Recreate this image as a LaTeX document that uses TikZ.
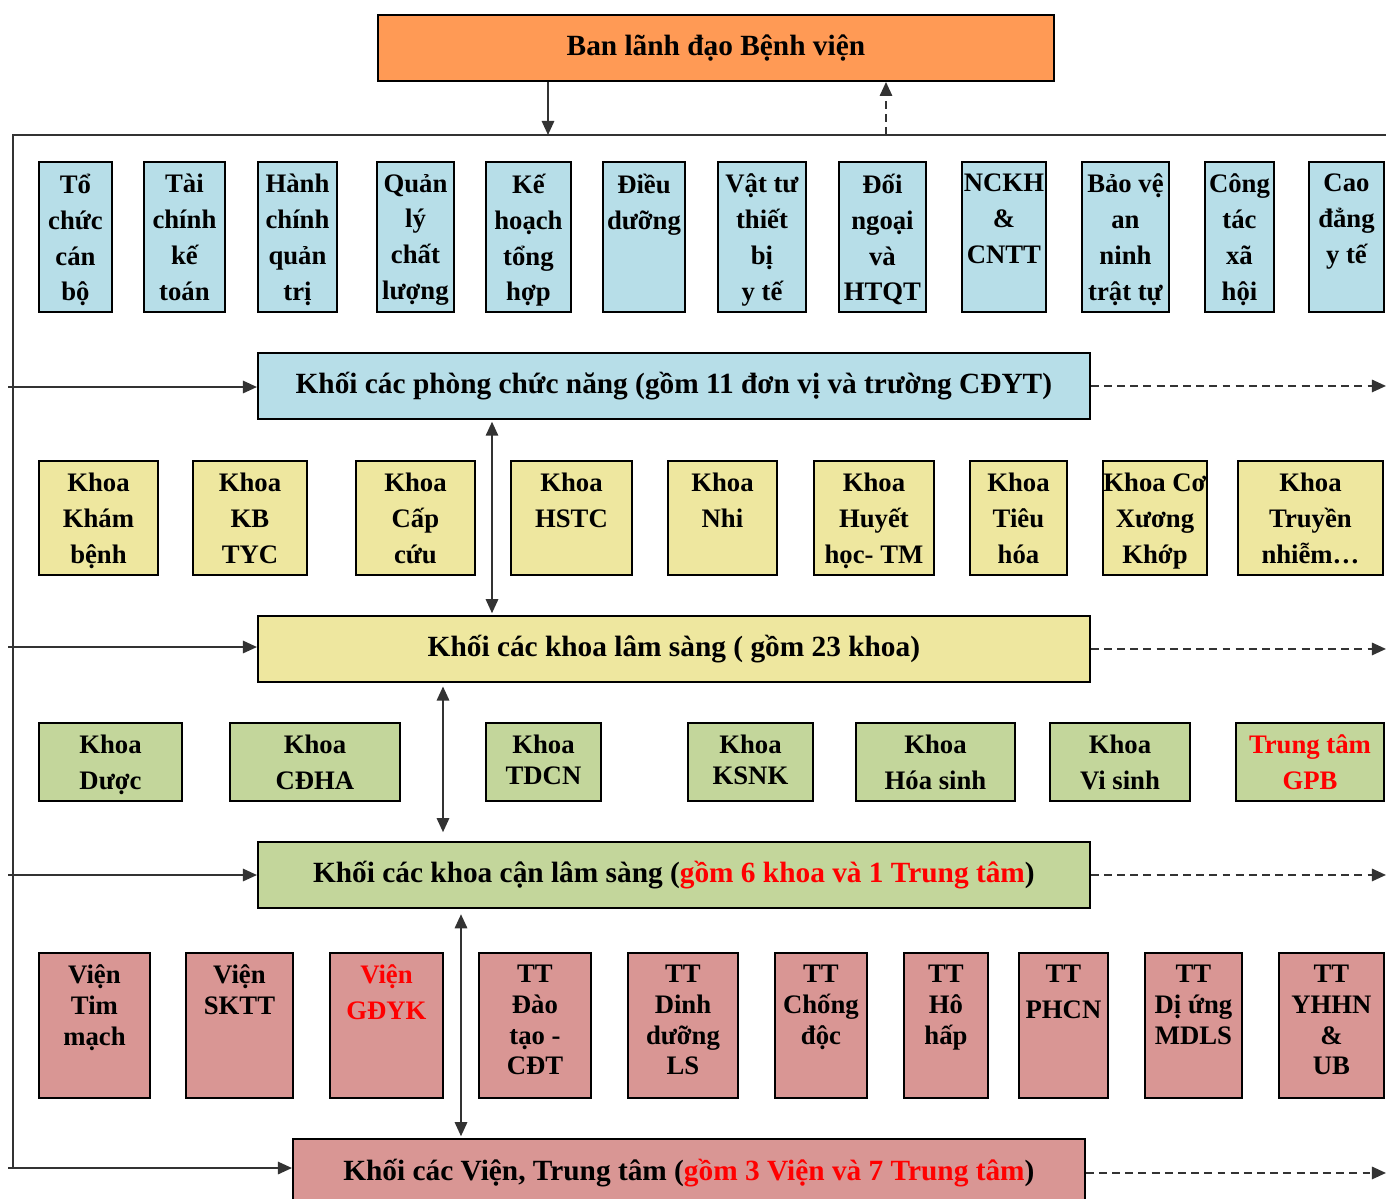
\documentclass[tikz,border=0pt]{standalone}
\usepackage{fontspec}
\setmainfont{Liberation Serif}
\usetikzlibrary{arrows.meta,positioning}
\definecolor{lead-orange}{HTML}{FF9A55}
\definecolor{dept-blue}{HTML}{B7DEE8}
\definecolor{clin-yellow}{HTML}{EEE79F}
\definecolor{para-green}{HTML}{C3D69B}
\definecolor{inst-pink}{HTML}{D99694}
\definecolor{wire}{HTML}{333333}

\begin{document}
\begin{tikzpicture}[x=0.02cm, y=-0.02cm,
  unitbox/.style={draw, line width=1.1pt, inner sep=0pt, anchor=north west},
  lbl/.style={anchor=north, align=center, inner sep=3pt, yshift=-4.2pt, font=\fontsize{15.2}{20.4}\selectfont\bfseries},
  lbltight/.style={lbl, font=\fontsize{15.2}{17.5}\selectfont\bfseries},
  block/.style={draw, line width=1.1pt, anchor=north west, minimum width=16.64cm, minimum height=1.32cm, font=\fontsize{16.7}{19}\selectfont\bfseries},
  arr/.style={-{Triangle[length=8pt, width=7pt]}, line width=1.2pt, wire},
  darr/.style={{Triangle[length=8pt, width=7pt]}-{Triangle[length=8pt, width=7pt]}, line width=1.2pt, wire},
  dash arr/.style={-{Triangle[length=8pt, width=7pt]}, line width=1.2pt, wire, dash pattern=on 4.5pt off 3pt}
]
  \useasboundingbox (0,0) rectangle (1386,1198);

  % leadership
  \node[block, fill=lead-orange, minimum width=13.52cm] (ban) at (377,14) {Ban lãnh đạo Bệnh viện};

  % functional departments
  \node[unitbox, fill=dept-blue, minimum width=1.46cm, minimum height=3cm, label={[lbl]north:Tổ\\chức\\cán\\bộ}] (tochuc) at (38,161) {};
  \node[unitbox, fill=dept-blue, minimum width=1.62cm, minimum height=3cm, label={[lbl]north:Tài\\chính\\kế\\toán}] (taichinh) at (143,161) {};
  \node[unitbox, fill=dept-blue, minimum width=1.58cm, minimum height=3cm, label={[lbl]north:Hành\\chính\\quản\\trị}] (hanhchinh) at (257,161) {};
  \node[unitbox, fill=dept-blue, minimum width=1.54cm, minimum height=3cm, label={[lbl]north:Quản\\lý\\chất\\lượng}] (quanly) at (376,161) {};
  \node[unitbox, fill=dept-blue, minimum width=1.70cm, minimum height=3cm, label={[lbl]north:Kế\\hoạch\\tổng\\hợp}] (kehoach) at (485,161) {};
  \node[unitbox, fill=dept-blue, minimum width=1.64cm, minimum height=3cm, label={[lbl]north:Điều\\dưỡng}] (dieuduong) at (602,161) {};
  \node[unitbox, fill=dept-blue, minimum width=1.76cm, minimum height=3cm, label={[lbl]north:Vật tư\\thiết\\bị\\y tế}] (vattu) at (717,161) {};
  \node[unitbox, fill=dept-blue, minimum width=1.74cm, minimum height=3cm, label={[lbl]north:Đối\\ngoại\\và\\HTQT}] (doingoai) at (838,161) {};
  \node[unitbox, fill=dept-blue, minimum width=1.68cm, minimum height=3cm, label={[lbl]north:NCKH\\\&\\CNTT}] (nckh) at (961,161) {};
  \node[unitbox, fill=dept-blue, minimum width=1.74cm, minimum height=3cm, label={[lbl]north:Bảo vệ\\an\\ninh\\trật tự}] (baove) at (1081,161) {};
  \node[unitbox, fill=dept-blue, minimum width=1.38cm, minimum height=3cm, label={[lbl]north:Công\\tác\\xã\\hội}] (congtac) at (1204,161) {};
  \node[unitbox, fill=dept-blue, minimum width=1.50cm, minimum height=3cm, label={[lbl]north:Cao\\đẳng\\y tế}] (caodang) at (1308,161) {};

  \node[block, fill=dept-blue] (phong) at (257,352) {Khối các phòng chức năng (gồm 11 đơn vị và trường CĐYT)};

  % clinical departments
  \node[unitbox, fill=clin-yellow, minimum width=2.38cm, minimum height=2.28cm, label={[lbl]north:Khoa\\Khám\\bệnh}] (khambenh) at (38,460) {};
  \node[unitbox, fill=clin-yellow, minimum width=2.28cm, minimum height=2.28cm, label={[lbl]north:Khoa\\KB\\TYC}] (kbtyc) at (192,460) {};
  \node[unitbox, fill=clin-yellow, minimum width=2.38cm, minimum height=2.28cm, label={[lbl]north:Khoa\\Cấp\\cứu}] (capcuu) at (355,460) {};
  \node[unitbox, fill=clin-yellow, minimum width=2.42cm, minimum height=2.28cm, label={[lbl]north:Khoa\\HSTC}] (hstc) at (510,460) {};
  \node[unitbox, fill=clin-yellow, minimum width=2.18cm, minimum height=2.28cm, label={[lbl]north:Khoa\\Nhi}] (nhi) at (667,460) {};
  \node[unitbox, fill=clin-yellow, minimum width=2.40cm, minimum height=2.28cm, label={[lbl]north:Khoa\\Huyết\\học- TM}] (huyethoc) at (813,460) {};
  \node[unitbox, fill=clin-yellow, minimum width=1.94cm, minimum height=2.28cm, label={[lbl]north:Khoa\\Tiêu\\hóa}] (tieuhoa) at (969,460) {};
  \node[unitbox, fill=clin-yellow, minimum width=2.08cm, minimum height=2.28cm, label={[lbl]north:Khoa Cơ\\Xương\\Khớp}] (coxuong) at (1102,460) {};
  \node[unitbox, fill=clin-yellow, minimum width=2.90cm, minimum height=2.28cm, label={[lbl]north:Khoa\\Truyền\\nhiễm…}] (truyennhiem) at (1237,460) {};

  \node[block, fill=clin-yellow] (lamsang) at (257,615) {Khối các khoa lâm sàng ( gồm 23 khoa)};

  % paraclinical departments
  \node[unitbox, fill=para-green, minimum width=2.86cm, minimum height=1.56cm, label={[lbl]north:Khoa\\Dược}] (duoc) at (38,722) {};
  \node[unitbox, fill=para-green, minimum width=3.40cm, minimum height=1.56cm, label={[lbl]north:Khoa\\CĐHA}] (cdha) at (229,722) {};
  \node[unitbox, fill=para-green, minimum width=2.30cm, minimum height=1.56cm, label={[lbltight]north:Khoa\\TDCN}] (tdcn) at (485,722) {};
  \node[unitbox, fill=para-green, minimum width=2.50cm, minimum height=1.56cm, label={[lbltight]north:Khoa\\KSNK}] (ksnk) at (687,722) {};
  \node[unitbox, fill=para-green, minimum width=3.18cm, minimum height=1.56cm, label={[lbl]north:Khoa\\Hóa sinh}] (hoasinh) at (855,722) {};
  \node[unitbox, fill=para-green, minimum width=2.80cm, minimum height=1.56cm, label={[lbl]north:Khoa\\Vi sinh}] (visinh) at (1049,722) {};
  \node[unitbox, fill=para-green, minimum width=2.96cm, minimum height=1.56cm, label={[lbl, text=red]north:Trung tâm\\GPB}] (gpb) at (1235,722) {};

  \node[block, fill=para-green] (canlamsang) at (257,841) {Khối các khoa cận lâm sàng (\textcolor{red}{gồm 6 khoa và 1 Trung tâm})};

  % institutes and centres
  \node[unitbox, fill=inst-pink, minimum width=2.22cm, minimum height=2.90cm, label={[lbltight]north:Viện\\Tim\\mạch}] (timmach) at (38,952) {};
  \node[unitbox, fill=inst-pink, minimum width=2.14cm, minimum height=2.90cm, label={[lbltight]north:Viện\\SKTT}] (sktt) at (185,952) {};
  \node[unitbox, fill=inst-pink, minimum width=2.26cm, minimum height=2.90cm, label={[lbl, text=red]north:Viện\\GĐYK}] (gdyk) at (329,952) {};
  \node[unitbox, fill=inst-pink, minimum width=2.24cm, minimum height=2.90cm, label={[lbltight]north:TT\\Đào\\tạo -\\CĐT}] (daotao) at (478,952) {};
  \node[unitbox, fill=inst-pink, minimum width=2.20cm, minimum height=2.90cm, label={[lbltight]north:TT\\Dinh\\dưỡng\\LS}] (dinhduong) at (627,952) {};
  \node[unitbox, fill=inst-pink, minimum width=1.84cm, minimum height=2.90cm, label={[lbltight]north:TT\\Chống\\độc}] (chongdoc) at (774,952) {};
  \node[unitbox, fill=inst-pink, minimum width=1.68cm, minimum height=2.90cm, label={[lbltight]north:TT\\Hô\\hấp}] (hohap) at (903,952) {};
  \node[unitbox, fill=inst-pink, minimum width=1.78cm, minimum height=2.90cm, label={[lbl]north:TT\\PHCN}] (phcn) at (1018,952) {};
  \node[unitbox, fill=inst-pink, minimum width=1.94cm, minimum height=2.90cm, label={[lbltight]north:TT\\Dị ứng\\MDLS}] (diung) at (1144,952) {};
  \node[unitbox, fill=inst-pink, minimum width=2.10cm, minimum height=2.90cm, label={[lbltight]north:TT\\YHHN\\\&\\UB}] (yhhn) at (1278,952) {};

  \node[block, fill=inst-pink, minimum width=15.84cm, minimum height=1.36cm] (vientt) at (292,1138) {Khối các Viện, Trung tâm (\textcolor{red}{gồm 3 Viện và 7 Trung tâm})};

  % bus and free ends
  \coordinate (busL) at (13,135);
  \coordinate (busR) at (1386,135);
  \coordinate (busB) at (13,1168);
  \coordinate (downhit) at (548,135);
  \coordinate (uphit) at (886,135);
  \coordinate (feed1) at (8,387);
  \coordinate (feed2) at (8,647);
  \coordinate (feed3) at (8,875);
  \coordinate (feed4) at (8,1168);
  \coordinate (edgeR) at (1386,0);
  \coordinate (link1) at (492,0);
  \coordinate (link2) at (443,0);
  \coordinate (link3) at (461,0);

  \draw[wire, line width=1.1pt] (busR) -- (busL) -- (busB);
  \draw[arr] (ban.south -| downhit) -- (downhit);
  \draw[dash arr] (uphit) -- (ban.south -| uphit);

  \draw[arr] (feed1) -- (feed1 -| phong.west);
  \draw[arr] (feed2) -- (feed2 -| lamsang.west);
  \draw[arr] (feed3) -- (feed3 -| canlamsang.west);
  \draw[arr] (feed4) -- (feed4 -| vientt.west);

  \draw[dash arr] (phong.east) -- (phong.east -| edgeR);
  \draw[dash arr] (lamsang.east) -- (lamsang.east -| edgeR);
  \draw[dash arr] (canlamsang.east) -- (canlamsang.east -| edgeR);
  \draw[dash arr] (vientt.east) -- (vientt.east -| edgeR);

  \draw[darr, shorten <=1pt, shorten >=1pt] (phong.south -| link1) -- (lamsang.north -| link1);
  \draw[darr, shorten <=2pt, shorten >=5pt] (lamsang.south -| link2) -- (canlamsang.north -| link2);
  \draw[darr, shorten <=3pt, shorten >=1pt] (canlamsang.south -| link3) -- (vientt.north -| link3);
\end{tikzpicture}
\end{document}
